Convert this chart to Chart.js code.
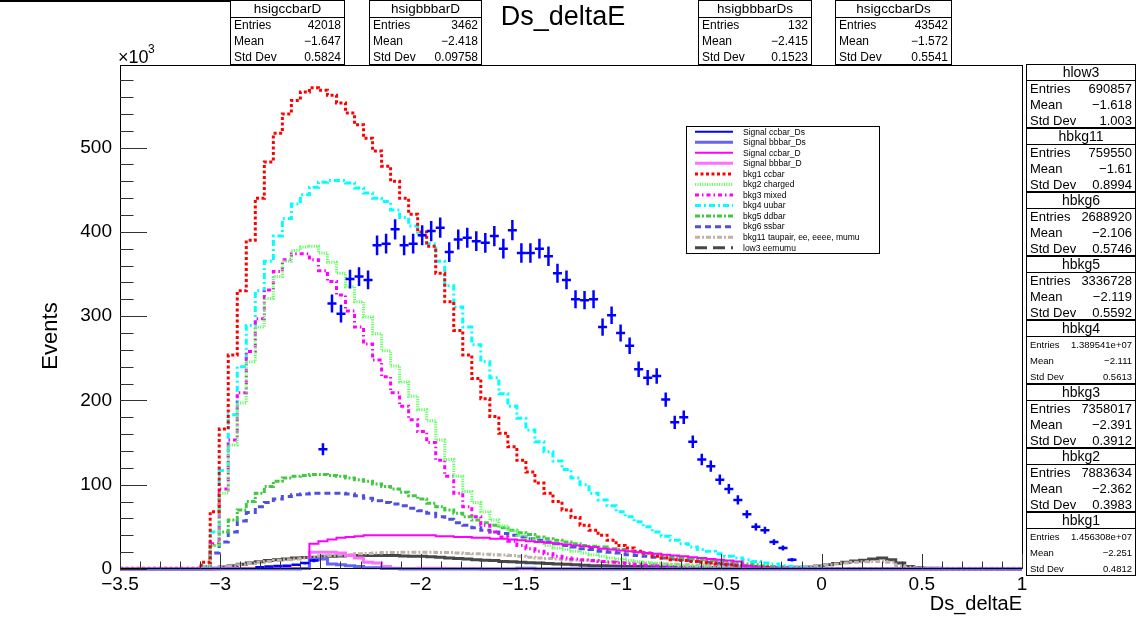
<!DOCTYPE html>
<html>
<head>
<meta charset="utf-8">
<script src="https://cdn.jsdelivr.net/npm/chart.js@4.4.1/dist/chart.umd.min.js"></script>
<style>
  html, body { margin: 0; padding: 0; background: #fff; }
  canvas { display: block; }
</style>
</head>
<body>
<canvas id="myChart" width="1136" height="618"></canvas>
<script>
// histogram binning: 100 bins from -3.5 to 1 (Ds_deltaE)
const xMin = -3.5, xMax = 1, nBins = 100;
const binW = (xMax - xMin) / nBins;
const yMax = 598;

// labelled tick values
const xTickVals = [-3.5, -3, -2.5, -2, -1.5, -1, -0.5, 0, 0.5, 1];
const yTickVals = [0, 100, 200, 300, 400, 500];

// bin contents, in units of 10^3 events
const sigCcbarDs = [
  null,null,null,null,null,null,null,null,null,null,
  null,null,null,null,null,2,3,3.5,4,5,
  7,10,142,315,303,344,347,343,384,386,
  403,384,386,396,401,405,376,391,393,389,
  387,395,380,402,375,375,380,371,351,343,
  320,319,320,287,301,280,265,237,227,229,
  201,174,180,151,130,122,106,95,82,65,
  50,46,32,25,11,null,null,null,null,null,
  null,null,null,null,null,null,null,null,null,null,
  null,null,null,null,null,null,null,null,null,null
];
const sigBbbarDs = [
  0,0,0,0,0,0,0,0,0,0,
  0,0,0,0,0,0,0,0,0,0,
  0.5,11,12,6,5,4,3,1.5,1.5,0.5,
  0.5,0,0,0,0,0,0,0,0,0,
  0,0,0,0,1,1,0,0,0,0,
  0,0,0,0,0,0,0,0,0,0,
  0,0,0,0,0,0,0,0,0,0,
  0,0,0,0,0,0,0,0,0,0,
  0,0,0,0,0,0,0,0,0,0,
  0,0,0,0,0,0,0,0,0,0
];
const sigCcbarD = [
  0,0,0,0,0,0,0,0,0,0,
  0,0.5,0.5,0.5,0.5,0.5,0.5,0.5,0.5,0.5,
  0.5,30,33,35,37,38,39,40,40,40,
  40,40,40,40,40,39,39,38,38,37,
  37,36,36,35,34,33,32,31,30,29,
  28,27,26,24,23,22,21,20,19,18,
  17,16,15,14,13,12,11,10,9,4,
  2,1,0.5,0.5,0,0,0,0,0,0,
  0,0,0,0,0,0,0,0,0,0,
  0,0,0,0,0,0,0,0,0,0
];
const sigBbbarD = [
  0,0,0,0,0,0,0,0,0,0,
  0,0.5,0.5,0.5,0.5,0.5,0.5,0.5,0.5,0.5,
  0.5,20,20,20,19,16,13,8,7,3,
  1,0.5,0.5,1,1,1,0.5,0.5,0.5,0.5,
  0,0,0,0,0,0,0,0,0,0,
  0,0,0,0,0,0,0,0,0,0,
  0,0,0,0,0,0,0,0,0,0,
  0,0,0,0,0,0,0,0,0,0,
  0,0,0,0,0,0,0,0,0,0,
  0,0,0,0,0,0,0,0,0,0
];
const bkg1 = [
  1,1,1,1,1,1,1,1,1,8,
  68,166,254,330,390,440,483,517,540,556,
  566,571,568,562,553,541,527,511,496,478,
  460,440,421,400,383,351,317,283,254,226,
  202,181,161,145,129,115,102,90,80,70,
  61,52,46,40,34,28,25,21,19,15,
  13,11,10,9,8,7,6,5,4,3,
  2,2,1,1,0.5,0.5,0.3,0.3,0.2,0.2,
  0.2,0.2,0.2,0.2,0.2,0.2,0.2,0.2,0.2,0.2,
  0.1,0.1,0.1,0.1,0.1,0.1,0.1,0.1,0.1,0.1
];
const bkg2 = [
  0.5,0.5,0.5,0.5,0.5,0.5,0.5,0.5,0.5,3,
  28,90,147,197,246,287,321,347,365,378,
  382,383,375,364,351,335,317,299,279,259,
  241,222,205,189,176,153,130,110,92,79,
  68,58,51,45,40,36,32,28,25,23,
  21,19,17,15,13,12,10,9,8,7,
  6,5,4,3.5,3,2.5,2,1.5,1,0.7,
  0.5,0.5,0.5,0.5,0.5,0.3,0.3,0.3,0.3,0.3,
  0.3,0.3,0.3,0.3,0.3,0.3,0.3,0.3,0.3,0.3,
  0.2,0.2,0.2,0.2,0.2,0.2,0.2,0.2,0.2,0.2
];
const bkg3 = [
  0.5,0.5,0.5,0.5,0.5,0.5,0.5,0.5,0.5,3,
  30,95,153,209,258,297,331,353,367,374,
  374,367,354,341,325,306,287,267,248,228,
  209,193,177,163,150,129,110,90,74,62,
  52,44,38,33,28,24,21,18,15,13,
  12,11,10,9,8,7,6,5,4.5,4,
  3.5,3,2.5,2,1.5,1,0.5,0.5,0.5,0.5,
  0.3,0.3,0.3,0.3,0.3,0.3,0.3,0.3,0.3,0.3,
  0.2,0.2,0.2,0.2,0.2,0.2,0.2,0.2,0.2,0.2,
  0.1,0.1,0.1,0.1,0.1,0.1,0.1,0.1,0.1,0.1
];
const bkg4 = [
  0.5,0.5,0.5,0.5,0.5,0.5,0.5,0.5,0.5,3,
  44,117,183,240,289,330,365,395,416,433,
  444,453,459,461,461,458,452,446,440,436,
  426,417,407,396,386,365,336,311,287,266,
  246,227,208,193,179,165,151,139,128,118,
  108,100,90,82,75,68,62,56,50,44,
  39,34,30,26,23,21,18,15,13,11,
  9,7,6,4,3,2,1.5,1,0.5,0.3,
  0.2,0.2,0.2,0.2,0.2,0.2,0.2,0.2,0.2,0.2,
  0.1,0.1,0.1,0.1,0.1,0.1,0.1,0.1,0.1,0.1
];
const bkg5 = [
  0.3,0.3,0.3,0.3,0.3,0.3,0.3,0.3,0.3,2,
  28,44,58,70,80,90,98,104,108,110,
  111,112,112,111,110,108,106,104,101,98,
  95,91,87,83,78,74,70,66,62,58,
  55,52,49,46,43,41,38,36,34,32,
  30,28,27,26,24,23,21,20,18,17,
  15,14,13,12,11,10,9,8,7,6,
  5,4,3,2.5,2,1.5,1,0.7,0.5,0.4,
  0.3,0.3,0.3,0.3,0.3,0.3,0.3,0.3,0.3,0.3,
  0.2,0.2,0.2,0.2,0.2,0.2,0.2,0.2,0.2,0.2
];
const bkg6 = [
  0.3,0.3,0.3,0.3,0.3,0.3,0.3,0.3,0.3,2,
  19,32,44,57,67,74,79,83,86,88,
  89,90,90,90,90,89,87,84,81,79,
  77,75,72,69,66,62,59,55,52,49,
  46,44,42,40,38,36,34,32,30,28,
  26,24,23,21,20,19,17,16,15,14,
  13,12,11,10,9,8,7,6,5,4,
  3,2.5,2,1.5,1,0.5,0.5,0.5,0.3,0.3,
  0.3,0.3,0.3,0.3,0.3,0.3,0.3,0.3,0.3,0.3,
  0.2,0.2,0.2,0.2,0.2,0.2,0.2,0.2,0.2,0.2
];
const bkg11 = [
  0.3,0.3,0.3,0.3,0.3,0.3,0.3,0.3,0.3,0.3,
  1,2,3.5,5,6.5,8,9,10,11,12,
  13,14,15,16,16.5,17,18,18.5,19,19.5,
  19.5,20,20,20,20,19.5,19.5,19,18.5,18,
  17.5,17,16.5,16,15,14,13,12.5,12,11,
  10.5,10,9.5,9,8.5,8,7.5,7,6.5,6,
  5.8,5.5,5,4.8,4.6,4.4,4.2,4,3.7,3.4,
  3.2,3,2.8,2.6,2.5,2.5,3,4,5,6,
  7,8,8.5,9,9,8,4,2,1.2,1,
  0.8,0.8,0.8,0.8,0.8,0.8,0.8,0.8,0.8,0.8
];
const low3 = [
  0.3,0.3,0.3,0.3,0.3,0.3,0.3,0.3,0.3,0.3,
  1,2.5,4,5.5,7,8.5,10,11,12,13,
  13.5,14,15,15,15.5,16,16,16,16,16,
  16,15.5,15,15,14.5,14,13,12.5,12,11,
  10.5,10,9,8.5,8,7.5,7,6.5,6,5.5,
  5,4.5,4,3.8,3.5,3.3,3,3,2.8,2.6,
  2.5,2.4,2.2,2,2,1.8,1.8,1.6,1.5,1.5,
  1.5,1.5,1.5,1.5,1.8,2,2.5,3.5,5,6.5,
  8,9.5,10.5,12,13,11,7,3,1.5,1,
  0.8,0.7,0.6,0.6,0.5,0.5,0.5,0.5,0.5,0.5
];

// stat boxes
const topStats = [
  ['hsigccbarD', '42018', '\u22121.647', '0.5824'],
  ['hsigbbbarD', '3462', '\u22122.418', '0.09758'],
  ['hsigbbbarDs', '132', '\u22122.415', '0.1523'],
  ['hsigccbarDs', '43542', '\u22121.572', '0.5541']
];
const sideStats = [
  ['hlow3', '690857', '\u22121.618', '1.003'],
  ['hbkg11', '759550', '\u22121.61', '0.8994'],
  ['hbkg6', '2688920', '\u22122.106', '0.5746'],
  ['hbkg5', '3336728', '\u22122.119', '0.5592'],
  ['hbkg4', '1.389541e+07', '\u22122.111', '0.5613'],
  ['hbkg3', '7358017', '\u22122.391', '0.3912'],
  ['hbkg2', '7883634', '\u22122.362', '0.3983'],
  ['hbkg1', '1.456308e+07', '\u22122.251', '0.4812']
];

const FONT = "'Liberation Sans', Arial, Helvetica, sans-serif";

function histPoints(vals) {
  const pts = vals.map((v, i) => ({ x: xMin + i * binW, y: v }));
  pts.push({ x: xMax, y: vals[vals.length - 1] });
  return pts;
}
function hist(label, vals, color, width, dash, legendDash) {
  return {
    label: label, data: histPoints(vals), borderColor: color, borderWidth: width,
    borderDash: dash, legendDash: legendDash || dash, stepped: true,
    pointRadius: 0, fill: false, clip: 4, tension: 0
  };
}

const datasets = [
  {
    label: 'Signal ccbar_Ds',
    data: sigCcbarDs.map((v, i) => ({ x: xMin + (i + 0.5) * binW, y: v })),
    showLine: false, pointRadius: 0, borderColor: '#0000ff', borderWidth: 2, legendDash: []
  },
  hist('Signal bbbar_Ds', sigBbbarDs, '#6464f5', 3, []),
  hist('Signal ccbar_D', sigCcbarD, '#ff00ff', 2, []),
  hist('Signal bbbar_D', sigBbbarD, '#ff70ff', 3, []),
  hist('bkg1 ccbar', bkg1, '#ff0000', 3, [3, 2.5]),
  hist('bkg2 charged', bkg2, '#66ff66', 3, [1.2, 1.2]),
  hist('bkg3 mixed', bkg3, '#ff00ff', 3, [4, 3, 1.5, 3]),
  hist('bkg4 uubar', bkg4, '#00ffff', 3, [6, 3, 2, 3]),
  hist('bkg5 ddbar', bkg5, '#44c844', 3, [5, 2, 2, 2]),
  hist('bkg6 ssbar', bkg6, '#5050dc', 3, [6, 4]),
  hist('bkg11 taupair, ee, eeee, mumu', bkg11, '#bdb2a6', 3, [5, 2, 2, 2]),
  hist('low3 eemumu', low3, '#474747', 3, [], [12, 6])
];

function fmtNum(v) {
  const r = Math.round(v * 10) / 10;
  return (r < 0 ? '\u2212' : '') + Math.abs(r);
}

function statBox(ctx, x0, y0, w, hh, rh, row, hFont, rFont) {
  const h = hh + 3 * rh;
  ctx.fillStyle = '#fff';
  ctx.fillRect(x0, y0, w, h);
  ctx.strokeStyle = '#000';
  ctx.lineWidth = 1;
  ctx.strokeRect(x0 + 0.5, y0 + 0.5, w - 1, h - 1);
  ctx.beginPath();
  ctx.moveTo(x0, y0 + hh + 0.5);
  ctx.lineTo(x0 + w, y0 + hh + 0.5);
  ctx.stroke();
  ctx.fillStyle = '#000';
  ctx.textBaseline = 'middle';
  ctx.textAlign = 'center';
  ctx.font = hFont + 'px ' + FONT;
  ctx.fillText(row[0], x0 + w / 2, y0 + hh / 2 + 1);
  ctx.font = rFont + 'px ' + FONT;
  const labels = ['Entries', 'Mean', 'Std Dev'];
  for (let r = 0; r < 3; r++) {
    const cy = y0 + hh + rh * (r + 0.5) + 1;
    ctx.textAlign = 'left';
    ctx.fillText(labels[r], x0 + 4, cy);
    ctx.textAlign = 'right';
    ctx.fillText(row[r + 1], x0 + w - 4, cy);
  }
}

const rootDecor = {
  id: 'rootDecor',
  afterDatasetsDraw(chart) {
    const ctx = chart.ctx, xs = chart.scales.x, ys = chart.scales.y;
    const meta = chart.getDatasetMeta(0);
    ctx.save();
    ctx.strokeStyle = '#0000ff';
    ctx.lineWidth = 2.5;
    meta.data.forEach((pt, i) => {
      const v = sigCcbarDs[i];
      if (v === null || pt.skip) return;
      const e = 0.6 * Math.sqrt(v);
      const xl = xs.getPixelForValue(xMin + i * binW);
      const xr = xs.getPixelForValue(xMin + (i + 1) * binW);
      const yt = ys.getPixelForValue(v + e);
      const yb = ys.getPixelForValue(Math.max(v - e, 0));
      ctx.beginPath();
      ctx.moveTo(xl, pt.y); ctx.lineTo(xr, pt.y);
      ctx.moveTo(pt.x, yt); ctx.lineTo(pt.x, yb);
      ctx.stroke();
    });
    ctx.restore();
  },
  afterDraw(chart) {
    const ctx = chart.ctx, a = chart.chartArea;
    const xs = chart.scales.x, ys = chart.scales.y;
    ctx.save();
    // frame
    ctx.strokeStyle = '#000';
    ctx.lineWidth = 1;
    ctx.strokeRect(Math.round(a.left) + 0.5, Math.round(a.top) + 0.5,
      Math.round(a.right - a.left), Math.round(a.bottom - a.top) - 1);
    // ticks inside the frame (major + minor)
    ctx.strokeStyle = '#333';
    ctx.beginPath();
    for (let k = 0; k <= 45; k++) {
      const v = xMin + k * 0.1;
      const px = Math.round(xs.getPixelForValue(v)) + 0.5;
      const len = (k % 5 === 0) ? 15 : 7.5;
      ctx.moveTo(px, a.bottom); ctx.lineTo(px, a.bottom - len);
    }
    for (let v = 0; v < yMax; v += 20) {
      const py = Math.round(ys.getPixelForValue(v)) + 0.5;
      const len = (v % 100 === 0) ? 27 : 13.5;
      ctx.moveTo(a.left, py); ctx.lineTo(a.left + len, py);
    }
    ctx.stroke();

    ctx.fillStyle = '#000';
    // exponent label
    ctx.textAlign = 'left';
    ctx.textBaseline = 'alphabetic';
    ctx.font = '18px ' + FONT;
    ctx.fillText('\u00d710', 118, 63);
    ctx.font = '12px ' + FONT;
    ctx.fillText('3', 148, 53);
    // axis titles
    ctx.font = '20px ' + FONT;
    ctx.textAlign = 'right';
    ctx.fillText('Ds_deltaE', a.right, 610);
    ctx.save();
    ctx.translate(57, 336);
    ctx.rotate(-Math.PI / 2);
    ctx.textAlign = 'center';
    ctx.font = '22px ' + FONT;
    ctx.fillText('Events', 0, 0);
    ctx.restore();
    // title
    ctx.textAlign = 'center';
    ctx.font = '27px ' + FONT;
    ctx.fillText('Ds_deltaE', 563, 25);

    // legend
    const lx = 686, ly = 126, lw = 193, lh = 127;
    ctx.fillStyle = '#fff';
    ctx.fillRect(lx, ly, lw, lh);
    ctx.strokeStyle = '#000';
    ctx.strokeRect(lx + 0.5, ly + 0.5, lw, lh);
    chart.data.datasets.forEach((ds, i) => {
      const cy = 131.7 + 10.55 * i;
      ctx.save();
      ctx.strokeStyle = ds.borderColor;
      ctx.lineWidth = ds.borderWidth;
      ctx.setLineDash(ds.legendDash);
      ctx.beginPath();
      ctx.moveTo(695, cy); ctx.lineTo(733, cy);
      ctx.stroke();
      ctx.restore();
      ctx.fillStyle = '#000';
      ctx.textAlign = 'left';
      ctx.textBaseline = 'middle';
      ctx.font = '8.5px ' + FONT;
      ctx.fillText(ds.label, 743, cy + 0.5);
    });

    // pad top line (left part)
    ctx.strokeStyle = '#000';
    ctx.lineWidth = 2;
    ctx.beginPath();
    ctx.moveTo(0, 1); ctx.lineTo(231, 1);
    ctx.stroke();
    ctx.lineWidth = 1;

    // stat boxes on top
    const topX = [[230, 115], [369, 113], [698, 114], [835, 117]];
    topStats.forEach((row, k) => {
      statBox(ctx, topX[k][0], 0, topX[k][1], 17, 16, row, 13.5, 12);
    });
    sideStats.forEach((row, k) => {
      const small = row[1].indexOf('e+') >= 0;
      statBox(ctx, 1026, 64 + 64 * k, 110, 16, 16, row, 14, small ? 9.5 : 13);
    });
    ctx.restore();
  }
};

Chart.defaults.font.family = FONT;
Chart.defaults.color = '#000';

const myChart = new Chart(document.getElementById('myChart'), {
  type: 'line',
  data: { datasets: datasets },
  options: {
    responsive: false,
    animation: false,
    devicePixelRatio: 1,
    layout: { padding: { left: 0, top: 65, right: 114, bottom: 0 } },
    plugins: { legend: { display: false }, tooltip: { enabled: false }, title: { display: false } },
    scales: {
      x: {
        type: 'linear', min: xMin, max: xMax,
        grid: { display: false, drawTicks: false },
        border: { display: false },
        ticks: {
          autoSkip: false, maxRotation: 0, padding: 4,
          font: { size: 19 }, color: '#000', callback: (v) => fmtNum(v)
        },
        afterBuildTicks: (s) => { s.ticks = xTickVals.map(v => ({ value: v })); },
        afterFit: (s) => { s.height = 49; }
      },
      y: {
        type: 'linear', min: 0, max: yMax,
        grid: { display: false, drawTicks: false },
        border: { display: false },
        ticks: {
          padding: 8,
          font: { size: 19 }, color: '#000', callback: (v) => fmtNum(v)
        },
        afterBuildTicks: (s) => { s.ticks = yTickVals.map(v => ({ value: v })); },
        afterFit: (s) => { s.width = 120; }
      }
    }
  },
  plugins: [rootDecor]
});
</script>
</body>
</html>
